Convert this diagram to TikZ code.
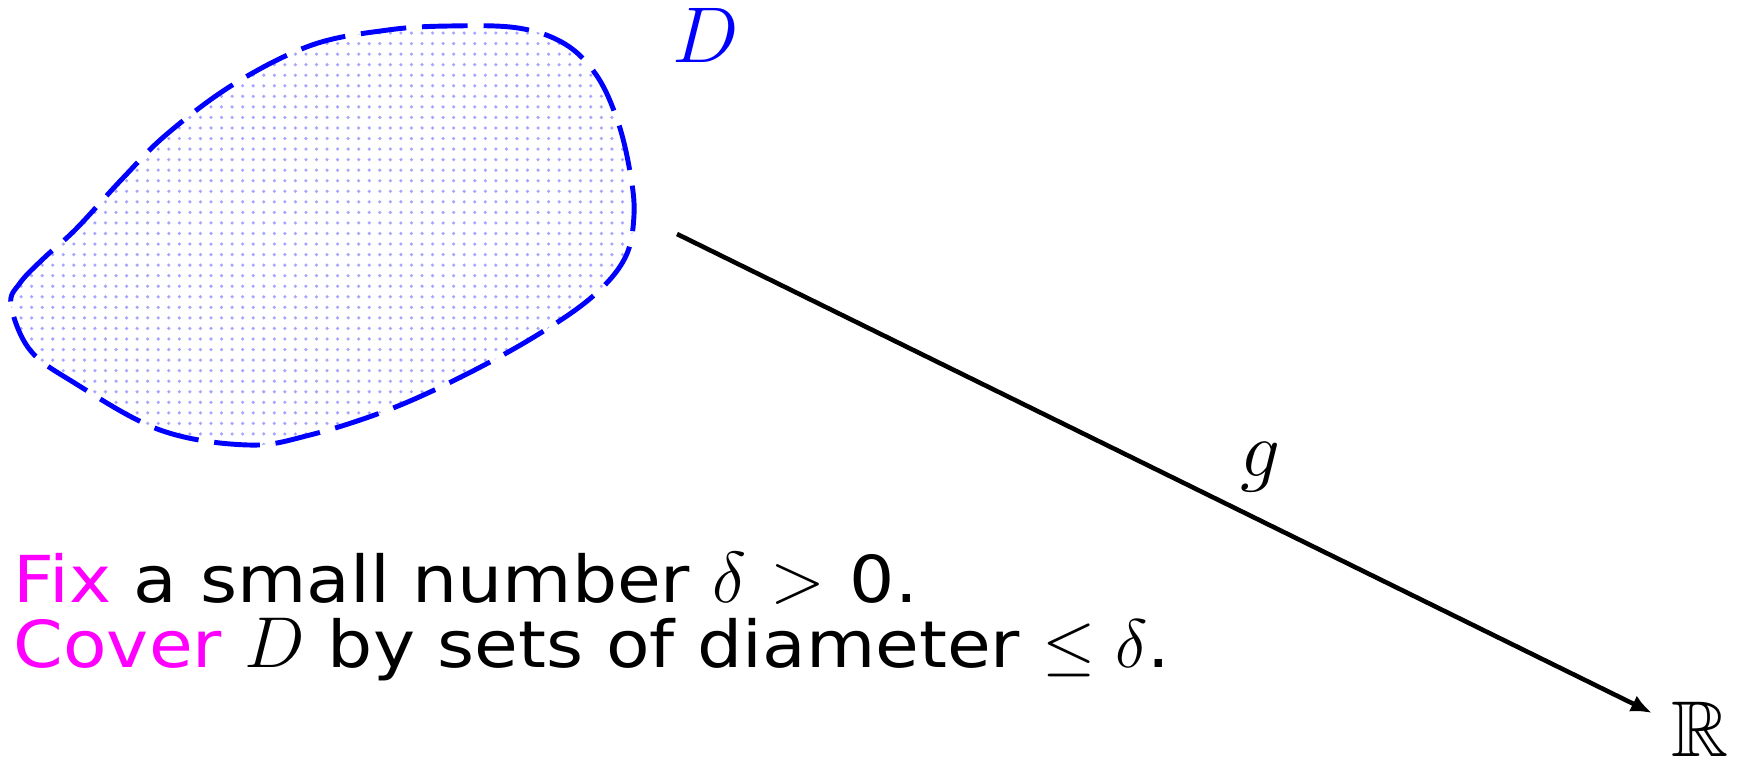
\RequirePackage{fix-cm}
\documentclass[tikz,border=0pt]{standalone}
\usepackage{amssymb}
\usepackage[no-math]{fontspec}
\setsansfont[FakeStretch=1.1]{DejaVu Sans}
\usetikzlibrary{patterns,arrows.meta}
\definecolor{fixcol}{RGB}{255,0,255}
\newcommand{\bigmath}[1]{{\fontsize{20.5pt}{18.5pt}\selectfont\thickmuskip=6mu$#1$}}
\tikzset{
  blobline/.style={draw=blue, line width=1.4pt, dash pattern=on 13pt off 4.5pt,
    pattern=dots, pattern color=blue!35},
  maptext/.style={font=\fontsize{18.4pt}{18.5pt}\selectfont\sffamily, inner sep=0pt},
  mathlabel/.style={font=\fontsize{22.5pt}{23pt}\selectfont, inner sep=0pt},
  mapline/.style={line width=1.3pt, -{Latex[length=6pt,width=5pt]}}
}
\begin{document}
\begin{tikzpicture}[x=0.01cm,y=-0.01cm]
\useasboundingbox (0,0) rectangle (1748,761);
\path[blobline] plot[smooth cycle, tension=0.6] coordinates {
 (11,305) (20,283) (44,258) (76,229) (123,178) (167,134) (234,84) (312,45) (388,30) (450,26)
 (518,28) (565,44) (597,76) (618,122) (630,172) (634,215) (625,258) (592,297)
 (534,337) (461,377) (388,410) (310,435) (248,445) (160,430) (73,382) (30,350)};
\node[mathlabel, text=blue, anchor=base] (D) at (706,63) {$D$};
\node[mathlabel, anchor=base] (R) at (1700,756) {$\mathbb{R}$};
\coordinate (gs) at (677,234);
\coordinate (ge) at (1652,713);
\draw[mapline] (gs) -- (ge);
\node[mathlabel, anchor=base] (g) at (1260,477) {$g$};
\node[maptext, anchor=base west] (t1) at (13,603) {\textcolor{fixcol}{Fix} a small number \bigmath{\delta>{}}0.};
\node[maptext, anchor=base west] (t2) at (13,668) {\textcolor{fixcol}{Cover} \bigmath{D} by sets of diameter {\fontsize{19.5pt}{18.5pt}\selectfont$\leq\delta$}.};
\end{tikzpicture}
\end{document}
